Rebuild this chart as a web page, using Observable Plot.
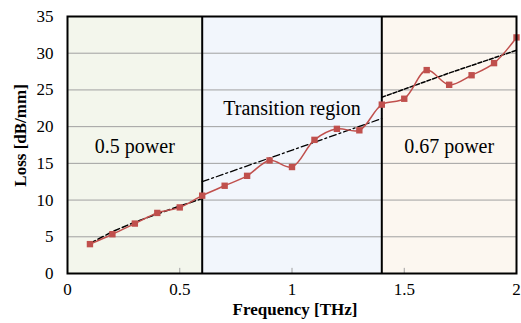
<!DOCTYPE html>
<html>
<head>
<meta charset="utf-8">
<script src="https://cdn.jsdelivr.net/npm/d3@7"></script>
<script src="https://cdn.jsdelivr.net/npm/@observablehq/plot@0.6"></script>
<style>
  html, body { margin: 0; padding: 0; background: #fff; }
  svg { display: block; }
  svg text { font-family: "Liberation Serif", "Times New Roman", serif; }
</style>
</head>
<body>
<div id="chart"></div>
<script>
// Measured loss
const freq = [0.1, 0.2, 0.3, 0.4, 0.5, 0.6, 0.7, 0.8, 0.9, 1.0, 1.1, 1.2, 1.3, 1.4, 1.5, 1.6, 1.7, 1.8, 1.9, 2.0];
const loss = [4.0, 5.35, 6.8, 8.25, 9.0, 10.6, 11.95, 13.3, 15.4, 14.5, 18.2, 19.7, 19.5, 23.0, 23.8, 27.7, 25.7, 27.0, 28.65, 32.15];

// Fit lines
const fitLowF = [0.1, 0.2, 0.3, 0.4, 0.5, 0.6];
const fitLowV = [4.1, 5.7, 7.0, 8.1, 9.2, 10.2];
const fitMidF = [0.6, 1.4];
const fitMidV = [12.5, 21.1];
const fitHighF = [1.4, 1.7, 2.0];
const fitHighV = [24.0, 27.3, 30.4];

// Regions
const regionStart = [0, 0.6, 1.4];
const regionEnd = [0.6, 1.4, 2.0];
const regionFill = ["#f3f6ec", "#f2f6fc", "#fcf7f0"];
const regionLabel = ["0.5 power", "Transition region", "0.67 power"];
const regionLabelX = [0.3, 1.0, 1.7];
const regionLabelY = [17.3, 22.5, 17.3];
const boundaries = [0.6, 1.4];

// Axes
const xTicks = [0, 0.5, 1, 1.5, 2];
const yTicks = [0, 5, 10, 15, 20, 25, 30, 35];
const gridY = [5, 10, 15, 20, 25, 30];
const innerXTicks = [0.5, 1, 1.5];
const xTitle = "Frequency [THz]";
const yTitle = "Loss [dB/mm]";

const pts = freq.map((f, i) => ({f, v: loss[i]}));
const low = fitLowF.map((f, i) => ({f, v: fitLowV[i]}));
const mid = fitMidF.map((f, i) => ({f, v: fitMidV[i]}));
const high = fitHighF.map((f, i) => ({f, v: fitHighV[i]}));
const regions = regionStart.map((s, i) => ({s, e: regionEnd[i], fill: regionFill[i], label: regionLabel[i], lx: regionLabelX[i], ly: regionLabelY[i]}));

const serif = "Liberation Serif";

const chart = Plot.plot({
  width: 521,
  height: 323,
  marginLeft: 67,
  marginRight: 5,
  marginTop: 16,
  marginBottom: 50,
  style: {fontFamily: serif, fontSize: "17px", color: "#000", background: "#fff"},
  x: {domain: [0, 2]},
  y: {domain: [0, 35]},
  marks: [
    Plot.rectY(regions, {x1: "s", x2: "e", y1: 0, y2: 35, fill: "fill"}),
    Plot.ruleY(gridY, {stroke: "#a0a0a0", strokeWidth: 1}),
    Plot.ruleX(innerXTicks, {y1: 0, y2: 0.7, stroke: "#a0a0a0", strokeWidth: 1}),
    Plot.ruleX(boundaries, {stroke: "#000", strokeWidth: 2}),
    Plot.line(low, {x: "f", y: "v", stroke: "#000", strokeWidth: 1.5, strokeDasharray: "6,3"}),
    Plot.line(mid, {x: "f", y: "v", stroke: "#000", strokeWidth: 1.3, strokeDasharray: "7,3,2,3"}),
    Plot.line(high, {x: "f", y: "v", stroke: "#000", strokeWidth: 1.5, strokeDasharray: "4,2"}),
    Plot.line(pts, {x: "f", y: "v", stroke: "#c0504d", strokeWidth: 1.5, curve: "catmull-rom"}),
    Plot.dot(pts, {x: "f", y: "v", symbol: "square", r: 3.6, fill: "#c0504d", stroke: "none"}),
    Plot.text(regions, {x: "lx", y: "ly", text: "label", fontSize: 20, fontFamily: serif, fill: "#000"}),
    Plot.frame({stroke: "#000", strokeWidth: 2}),
    Plot.axisY({ticks: yTicks, tickSize: 0, tickPadding: 14, label: null, fontSize: 17, fontFamily: serif}),
    Plot.axisX({ticks: xTicks, tickSize: 0, tickPadding: 9, label: null, fontSize: 17, fontFamily: serif, tickFormat: d => String(d)}),
    Plot.text([xTitle], {frameAnchor: "bottom", text: d => d, dx: 3, dy: 41, fontWeight: "bold", fontSize: 17, fontFamily: serif}),
    Plot.text([yTitle], {x: () => -0.21, y: () => 18.8, text: d => d, rotate: -90, fontWeight: "bold", fontSize: 17, fontFamily: serif})
  ]
});
document.getElementById("chart").appendChild(chart);
</script>
</body>
</html>
